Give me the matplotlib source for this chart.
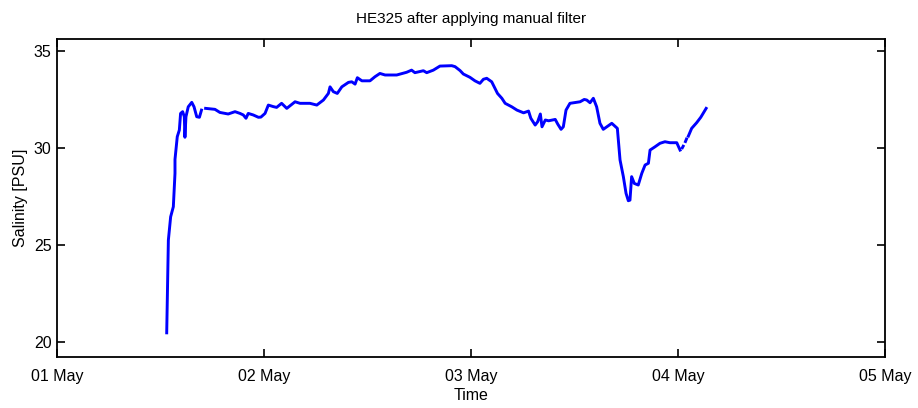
import numpy as np
import matplotlib
matplotlib.use("Agg")
import matplotlib.pyplot as plt

# time in days since 01 May 00:00; NaN marks gaps in the record
days = [0.530, 0.538, 0.549, 0.562, 0.570, 0.570, 0.581, 0.591, 0.597, 0.607,
        0.615, 0.618, 0.623, 0.634, 0.651, 0.662, 0.675, 0.688, 0.698,
        np.nan,
        0.718, 0.763, 0.787, 0.827, 0.860, 0.884, 0.900, 0.913, 0.924, 0.948,
        0.973, 0.985, 1.005, 1.021, 1.045, 1.061, 1.085, 1.110, 1.150, 1.174,
        1.222, 1.255, 1.287, 1.311, 1.319, 1.335, 1.354, 1.376, 1.408, 1.424,
        1.440, 1.451, 1.473, 1.512, 1.536, 1.560, 1.585, 1.641, 1.689, 1.713,
        1.729, 1.770, 1.786, 1.818, 1.850, 1.907, 1.923, 1.947, 1.963, 1.995,
        2.019, 2.043, 2.060, 2.076, 2.100, 2.116, 2.128, 2.149, 2.165, 2.197,
        2.222, 2.254, 2.278, 2.289, 2.310, 2.322, 2.335, 2.343, 2.359, 2.375,
        2.407, 2.419, 2.435, 2.446, 2.459, 2.478, 2.527, 2.547, 2.559, 2.575,
        2.591, 2.607, 2.623, 2.639, 2.680, 2.707, 2.720, 2.736, 2.749, 2.760,
        2.768, 2.776, 2.789, 2.808, 2.825, 2.841, 2.857, 2.865, 2.889, 2.913,
        2.937, 2.961, 2.994, 3.010,
        np.nan, 3.021, 3.025, np.nan, 3.036, 3.041, np.nan,
        3.050, 3.066, 3.090, 3.110, 3.136]
salinity = [20.46, 25.24, 26.44, 26.96, 28.68, 29.40, 30.57, 30.91, 31.77, 31.86,
            31.60, 30.54, 31.60, 32.11, 32.34, 32.11, 31.60, 31.57, 31.94,
            np.nan,
            32.03, 31.98, 31.82, 31.74, 31.86, 31.77, 31.69, 31.52, 31.77, 31.69,
            31.57, 31.58, 31.77, 32.20, 32.12, 32.08, 32.29, 32.03, 32.37, 32.29,
            32.29, 32.20, 32.46, 32.80, 33.14, 32.89, 32.80, 33.14, 33.37, 33.40,
            33.28, 33.61, 33.45, 33.45, 33.66, 33.83, 33.75, 33.75, 33.89, 34.00,
            33.87, 33.97, 33.87, 34.00, 34.21, 34.23, 34.18, 33.98, 33.80, 33.63,
            33.45, 33.32, 33.53, 33.58, 33.40, 33.06, 32.80, 32.55, 32.29, 32.11,
            31.94, 31.80, 31.89, 31.52, 31.17, 31.34, 31.74, 31.08, 31.43, 31.39,
            31.46, 31.22, 30.95, 31.08, 31.94, 32.29, 32.37, 32.49, 32.46, 32.32,
            32.55, 32.11, 31.26, 30.95, 31.26, 31.00, 29.37, 28.51, 27.65, 27.27,
            27.30, 28.51, 28.16, 28.08, 28.68, 29.11, 29.20, 29.88, 30.05, 30.23,
            30.31, 30.26, 30.26, 29.88,
            np.nan, 30.00, 30.08, np.nan, 30.32, 30.45, np.nan,
            30.60, 31.00, 31.29, 31.57, 32.03]

x_ticks = [0, 1, 2, 3, 4]
x_tick_labels = ["01 May", "02 May", "03 May", "04 May", "05 May"]
y_ticks = [20, 25, 30, 35]

plt.rcParams['font.family'] = ['Liberation Sans', 'DejaVu Sans']

fig = plt.figure(figsize=(9.18, 4.08), dpi=100)
ax = fig.add_axes([57/918, 1 - 356.7/408, (885-57)/918, (356.7-39.3)/408])

ax.plot(days, salinity, color=(0, 0, 1), linewidth=2.1, solid_joinstyle='round')

ax.set_xlim(0, 4)
ax.set_ylim(19.23, 35.59)
ax.set_xticks(x_ticks)
ax.set_xticklabels(x_tick_labels)
ax.set_yticks(y_ticks)

ax.tick_params(direction='in', length=6, width=1.2, top=True, right=True,
               labelsize=11.5)
ax.tick_params(axis='x', pad=9)
ax.tick_params(axis='y', pad=4)
for s in ax.spines.values():
    s.set_linewidth(1.3)

ax.set_title("HE325 after applying manual filter", fontsize=11, pad=12)
ax.set_xlabel("Time", fontsize=11.5, labelpad=3)
ax.set_ylabel("Salinity [PSU]", fontsize=11.5, labelpad=4)

fig.savefig("out.png", dpi=100)
